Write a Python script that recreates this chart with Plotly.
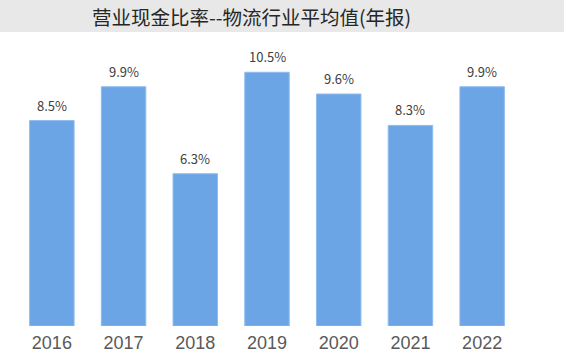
import plotly.graph_objects as go

years = ["2016", "2017", "2018", "2019", "2020", "2021", "2022"]
values = [8.5, 9.9, 6.3, 10.5, 9.6, 8.3, 9.9]
labels = ["8.5%", "9.9%", "6.3%", "10.5%", "9.6%", "8.3%", "9.9%"]
title = "营业现金比率--物流行业平均值(年报)"

W, H = 564, 359
L, R, T, B = 16, 46, 36, 33
pw, ph = W - L - R, H - T - B

fig = go.Figure(go.Bar(
    x=years, y=values,
    marker=dict(color="#6CA5E5", line=dict(color="#8DBBEE", width=1)),
    width=0.62, hoverinfo="skip",
))

for i, (v, lab) in enumerate(zip(values, labels)):
    fig.add_annotation(x=i, y=v, text=lab, showarrow=False,
                       xanchor="center", yanchor="bottom", yshift=4,
                       font=dict(family="Noto Sans CJK SC, Open Sans, sans-serif",
                                 size=13, color="#404040"))

fig.add_shape(type="rect", xref="paper", yref="paper",
              x0=-L / pw, x1=(W - L) / pw,
              y0=(H - B - 32) / ph, y1=(H - B) / ph,
              fillcolor="#E8E8E8", line=dict(width=0), layer="below")
fig.add_annotation(text=title, xref="paper", yref="paper",
                   x=(251 - L) / pw, y=(H - B - 16) / ph,
                   xanchor="center", yanchor="middle", showarrow=False,
                   font=dict(family="Noto Sans CJK SC, sans-serif", size=19.5, color="#262626"))

fig.update_layout(
    width=W, height=H, margin=dict(l=L, r=R, t=T, b=B, autoexpand=False),
    paper_bgcolor="white", plot_bgcolor="white", showlegend=False,
    xaxis=dict(type="category", showgrid=False, showline=False, zeroline=False, ticks="",
               automargin=False, ticklabelstandoff=4,
               tickfont=dict(family="Liberation Sans, Arial, sans-serif", size=18, color="#595959")),
    yaxis=dict(range=[0, 12], visible=False, showgrid=False, zeroline=False, automargin=False),
    bargap=0.38,
)
fig.write_html("out.html", config={"displayModeBar": False},
               post_script="document.body.style.margin='0';")
